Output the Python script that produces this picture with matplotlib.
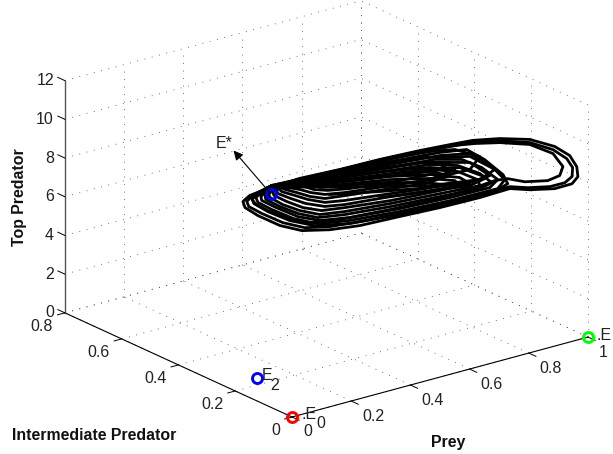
import matplotlib
matplotlib.use("Agg")
import matplotlib.pyplot as plt
from mpl_toolkits.mplot3d import proj3d

plt.rcParams["font.family"] = ["Liberation Sans", "DejaVu Sans"]

x_ticks = [0, 0.2, 0.4, 0.6, 0.8, 1]
y_ticks = [0, 0.2, 0.4, 0.6, 0.8]
z_ticks = [0, 2, 4, 6, 8, 10, 12]
x_labels = ["0", "0.2", "0.4", "0.6", "0.8", "1"]
y_labels = ["0", "0.2", "0.4", "0.6", "0.8"]
z_labels = ["0", "2", "4", "6", "8", "10", "12"]

E0 = (0, 0, 0)
E1 = (1, 0, 0)
E2 = (0.106, 0.234, 0)
Estar = (0.174, 0.257, 9.1)

# orbit passes: (prey, intermediate, top)
orbit_a = [(.161,.260,9.35),(.253,.237,9.69),(.362,.209,9.89),(.471,.182,10.14),(.580,.155,10.33),(.662,.134,10.44),(.725,.119,10.50),(.798,.100,10.42),(.880,.080,10.17),(.948,.063,9.64),(.989,.053,9.07),(1.008,.048,8.45),(1.011,.047,7.93),(.995,.051,7.60),(.948,.063,7.46),(.880,.080,7.57),(.826,.094,7.76),(.744,.114,7.50),(.635,.141,7.25),(.526,.169,7.05),(.417,.196,6.85),(.335,.216,6.84),(.259,.235,6.98),(.199,.250,7.39),(.139,.265,8.05),(.104,.274,8.55),(.098,.275,8.88),(.117,.271,9.14),(.161,.260,9.35)]
orbit_b = [(.166,.258,9.44),(.253,.237,9.64),(.362,.209,9.83),(.471,.182,10.03),(.580,.155,10.23),(.662,.134,10.34),(.722,.119,10.40),(.798,.100,10.31),(.880,.080,10.01),(.943,.064,9.49),(.981,.055,8.93),(.997,.051,8.43),(.995,.051,7.97),(.975,.056,7.70),(.935,.066,7.60),(.875,.081,7.69),(.826,.094,7.86),(.744,.114,7.65),(.635,.141,7.40),(.526,.169,7.20),(.417,.196,7.06),(.335,.216,7.00),(.267,.233,7.11),(.207,.248,7.52),(.150,.263,8.13),(.114,.271,8.58),(.109,.273,8.85),(.128,.268,9.17),(.166,.258,9.44)]
orbit_c = [(.172,.257,9.47),(.281,.230,9.67),(.390,.203,9.92),(.499,.175,10.17),(.608,.148,10.32),(.676,.131,10.36),(.730,.117,10.33),(.798,.100,10.21),(.880,.080,9.91),(.943,.064,9.29),(.970,.057,8.55),(.962,.060,8.10),(.929,.068,7.92),(.866,.083,8.02),(.820,.095,8.29),(.785,.104,8.28),(.717,.121,7.98),(.608,.148,7.67),(.499,.175,7.48),(.390,.203,7.33),(.322,.220,7.29),(.275,.231,7.35),(.221,.245,7.70),(.166,.258,8.24),(.134,.267,8.64),(.123,.269,8.92),(.139,.265,9.19),(.172,.257,9.47)]
orbit_d = [(.177,.256,9.51),(.335,.216,9.75),(.499,.175,9.96),(.635,.141,10.10),(.708,.123,10.07),(.757,.111,9.43),(.807,.098,8.53),(.820,.095,8.03),(.785,.104,7.71),(.662,.134,7.39),(.526,.169,7.15),(.390,.203,7.02),(.294,.226,7.15),(.226,.243,7.58),(.166,.258,8.19),(.128,.268,8.70),(.123,.269,8.97),(.144,.264,9.23),(.177,.256,9.51)]
orbit_e = [(.180,.255,9.45),(.335,.216,9.64),(.499,.175,9.81),(.635,.141,9.94),(.717,.121,9.84),(.771,.107,9.14),(.812,.097,8.26),(.793,.102,7.84),(.662,.134,7.54),(.526,.169,7.31),(.390,.203,7.18),(.302,.224,7.23),(.237,.241,7.65),(.177,.256,8.27),(.139,.265,8.73),(.134,.267,9.00),(.153,.262,9.26),(.180,.255,9.45)]
orbit_f = [(.183,.254,9.45),(.335,.216,9.54),(.499,.175,9.65),(.621,.145,9.77),(.695,.126,9.59),(.749,.113,9.04),(.793,.102,8.31),(.771,.107,7.95),(.662,.134,7.70),(.526,.169,7.46),(.390,.203,7.33),(.308,.223,7.38),(.248,.238,7.73),(.188,.253,8.35),(.150,.263,8.80),(.147,.263,9.02),(.163,.259,9.29),(.183,.254,9.45)]
orbit_g = [(.183,.254,9.40),(.335,.216,9.43),(.499,.175,9.50),(.608,.148,9.54),(.684,.129,9.30),(.744,.114,8.74),(.777,.106,8.19),(.744,.114,7.96),(.635,.141,7.82),(.499,.175,7.63),(.376,.206,7.52),(.302,.224,7.55),(.248,.238,7.89),(.199,.250,8.37),(.161,.260,8.83),(.158,.260,9.04),(.172,.257,9.27),(.183,.254,9.40)]
orbit_h = [(.185,.254,9.39),(.335,.216,9.33),(.499,.175,9.34),(.608,.148,9.28),(.684,.129,8.99),(.738,.115,8.44),(.744,.114,8.12),(.635,.141,7.97),(.499,.175,7.79),(.376,.206,7.68),(.308,.223,7.69),(.253,.237,8.03),(.207,.248,8.45),(.172,.257,8.90),(.169,.258,9.07),(.177,.256,9.25),(.185,.254,9.39)]
orbit_i = [(.188,.253,9.38),(.335,.216,9.23),(.499,.175,9.19),(.608,.148,9.02),(.689,.128,8.67),(.717,.121,8.29),(.635,.141,8.13),(.499,.175,7.94),(.376,.206,7.88),(.313,.222,7.88),(.262,.235,8.16),(.218,.246,8.58),(.183,.254,8.98),(.180,.255,9.14),(.188,.253,9.38)]
orbit_j = [(.191,.252,9.38),(.335,.216,9.12),(.499,.175,9.03),(.608,.148,8.82),(.676,.131,8.54),(.689,.128,8.25),(.608,.148,8.19),(.485,.179,8.13),(.376,.206,8.04),(.322,.220,8.07),(.270,.233,8.35),(.229,.243,8.71),(.193,.252,9.06),(.191,.252,9.22),(.191,.252,9.38)]
orbit_k = [(.193,.252,9.37),(.335,.216,9.07),(.485,.179,8.91),(.594,.151,8.64),(.649,.138,8.40),(.594,.151,8.33),(.485,.179,8.29),(.376,.206,8.25),(.322,.220,8.28),(.275,.231,8.55),(.240,.240,8.84),(.204,.249,9.13),(.193,.252,9.37)]
orbit_l = [(.199,.250,9.36),(.322,.220,9.31),(.485,.179,9.22),(.608,.148,9.18),(.662,.134,8.84),(.594,.151,8.59),(.485,.179,8.55),(.376,.206,8.50),(.322,.220,8.48),(.281,.230,8.69),(.245,.239,8.98),(.213,.247,9.22),(.199,.250,9.36)]
orbit_m = [(.207,.248,9.39),(.322,.220,9.47),(.485,.179,9.48),(.608,.148,9.39),(.676,.131,9.11),(.608,.148,8.76),(.485,.179,8.70),(.376,.206,8.66),(.322,.220,8.69),(.283,.229,8.89),(.253,.237,9.12),(.221,.245,9.30),(.207,.248,9.39)]
orbit_n = [(.226,.243,9.39),(.322,.220,9.57),(.485,.179,9.64),(.594,.151,9.68),(.662,.134,9.51),(.608,.148,9.02),(.485,.179,8.86),(.390,.203,8.83),(.330,.218,8.88),(.292,.227,9.02),(.264,.234,9.25),(.240,.240,9.41),(.226,.243,9.39)]
orbit_o = [(.177,.256,9.51),(.308,.223,9.76),(.485,.179,10.10),(.608,.148,10.21),(.676,.131,10.15),(.744,.114,9.62),(.717,.121,9.01),(.580,.155,8.73),(.485,.179,8.76)]
orbit_p = [(.253,.237,9.64),(.417,.196,9.85),(.580,.155,9.97),(.717,.121,9.69),(.785,.104,8.85),(.744,.114,8.43),(.608,.148,8.45),(.471,.182,8.74),(.308,.223,9.09)]
orbit_q = [(.253,.237,9.53),(.417,.196,9.65),(.580,.155,9.71),(.717,.121,9.38),(.771,.107,8.57),(.717,.121,8.34),(.608,.148,8.35),(.471,.182,8.48),(.335,.216,8.66)]
orbit_r = [(.580,.155,9.35),(.689,.128,9.18),(.763,.109,8.49),(.717,.121,8.18),(.580,.155,8.16),(.471,.182,8.17)]

orbits = [orbit_a, orbit_b, orbit_c, orbit_d, orbit_e, orbit_f, orbit_g, orbit_h, orbit_i,
          orbit_j, orbit_k, orbit_l, orbit_m, orbit_n, orbit_o, orbit_p, orbit_q, orbit_r]

fig = plt.figure(figsize=(6.13, 4.54), dpi=100)
ax = fig.add_axes([(318.8 - 283) / 613, (237.5 - 283) / 454, 566 / 613, 566 / 454],
                  projection="3d", proj_type="ortho", computed_zorder=False)
ax.set_box_aspect((1, 1, 0.665))
ax.view_init(elev=20.6, azim=-127.5)
ax.set_xlim(0, 1, view_margin=0)
ax.set_ylim(0, 0.8, view_margin=0)
ax.set_zlim(0, 12, view_margin=0)
ax.set_axis_off()

dots = dict(color="#444444", lw=0.6, linestyle=(0, (1, 8)))
for x in x_ticks:
    ax.plot([x, x], [0, 0.8], [0, 0], **dots)
    ax.plot([x, x], [0.8, 0.8], [0, 12], **dots)
for y in y_ticks:
    ax.plot([0, 1], [y, y], [0, 0], **dots)
    ax.plot([1, 1], [y, y], [0, 12], **dots)
for z in z_ticks:
    ax.plot([0, 1], [0.8, 0.8], [z, z], **dots)
    ax.plot([1, 1], [0, 0.8], [z, z], **dots)

ax.plot([0, 1], [0, 0], [0, 0], color="k", lw=0.8)
ax.plot([0, 0], [0, 0.8], [0, 0], color="k", lw=0.8)
ax.plot([0, 0], [0.8, 0.8], [0, 12], color="#555555", lw=1.0)
for x in x_ticks:
    ax.plot([x, x], [0, -0.025], [0, 0], color="k", lw=0.7)
for y in y_ticks:
    ax.plot([0, -0.025], [y, y], [0, 0], color="k", lw=0.7)
for z in z_ticks:
    ax.plot([0, 0], [0.8, 0.825], [z, z], color="k", lw=0.7)

for orbit in orbits:
    xs, ys, zs = zip(*orbit)
    ax.plot(xs, ys, zs, color="k", lw=2.0, solid_joinstyle="round")


def note(p, txt, dx, dy, **kw):
    a, b, _ = proj3d.proj_transform(*p, ax.get_proj())
    return ax.annotate(txt, (a, b), xytext=(dx * 0.72, -dy * 0.72), textcoords="offset points",
                       annotation_clip=False, **kw)


tick = dict(fontsize=11.5, color="#222222", va="center")
for x, s in zip(x_ticks, x_labels):
    note((x, 0, 0), s, 11, 15, ha="left", **tick)
for y, s in zip(y_ticks, y_labels):
    note((0, y, 0), s, -12, 14, ha="right", **tick)
for z, s in zip(z_ticks, z_labels):
    note((0, 0.8, z), s, -11, 0, ha="right", **tick)

for p, col in [(E0, "#ff0000"), (E1, "#00ff00"), (E2, "#0000ff"), (Estar, "#0000ff")]:
    ax.plot([p[0]], [p[1]], [p[2]], "o", mfc="none", mec=col, ms=7.2, mew=2.1)

small = dict(fontsize=11.5, color="#222222", va="center")
note(E0, ".E", 9, -2, ha="left", **small)
note(E0, "0", 24, 7, ha="left", **small)
note(E1, ".E", 8, -2, ha="left", **small)
note(E2, "E", 5, -3, ha="left", **small)
note(E2, "2", 13, 7, ha="left", **small)
note(Estar, "E*", -38, -50, ha="right", **small)
note(Estar, "", -37, -43, ha="center", va="center",
     arrowprops=dict(arrowstyle="<|-", color="k", lw=0.8, shrinkA=0, shrinkB=0, mutation_scale=14))

bold = dict(fontsize=11.4, fontweight="bold", color="#111111")
fig.text(20 / 613, 1 - 197 / 454, "Top Predator", rotation=90, ha="center", va="center", **bold)
fig.text(448 / 613, 1 - 442 / 454, "Prey", ha="center", va="center", **bold)
fig.text(12 / 613, 1 - 436 / 454, "Intermediate Predator", ha="left", va="center", **bold)

fig.savefig("out.png", dpi=100)
